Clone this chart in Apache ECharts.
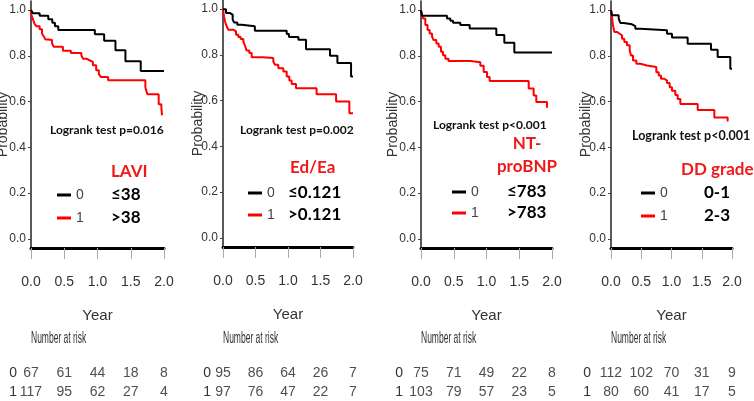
<!DOCTYPE html>
<html>
<head>
<meta charset="utf-8">
<script src="https://cdn.jsdelivr.net/npm/echarts@6/dist/echarts.min.js"></script>
<style>html,body{margin:0;padding:0;background:#fff}#c{width:754px;height:401px}</style>
</head>
<body>
<div id="c"></div>
<script>
// ---------- data ----------
const yearTicks = [0, 0.5, 1, 1.5, 2];
const probTicks = [0, 0.2, 0.4, 0.6, 0.8, 1.0];
const riskGroups = ['0', '1'];

// LAVI
const laviT0 = [0, 0.03, 0.13, 0.26, 0.32, 0.36, 0.41, 0.96, 1.10, 1.27, 1.42, 1.65, 2.0];
const laviS0 = [1.0, 0.986, 0.975, 0.96, 0.945, 0.93, 0.913, 0.895, 0.866, 0.825, 0.777, 0.734, 0.734];
const laviT1 = [0, 0.005, 0.03, 0.055, 0.08, 0.13, 0.165, 0.195, 0.215, 0.256, 0.316, 0.34, 0.48, 0.60, 0.757, 0.78, 0.83, 0.88, 0.93, 0.98, 1.02, 1.05, 1.16, 1.72, 1.75, 1.92, 1.96, 1.97];
const laviS1 = [1.0, 0.979, 0.96, 0.939, 0.93, 0.916, 0.898, 0.884, 0.872, 0.869, 0.857, 0.84, 0.822, 0.813, 0.803, 0.788, 0.781, 0.774, 0.759, 0.737, 0.72, 0.708, 0.693, 0.661, 0.632, 0.588, 0.576, 0.54];
const laviRisk0 = [67, 61, 44, 18, 8];
const laviRisk1 = [117, 95, 62, 27, 4];

// Ed/Ea
const edeaT0 = [0, 0.046, 0.108, 0.149, 0.169, 0.22, 0.287, 0.49, 0.98, 1.015, 1.16, 1.277, 1.646, 1.76, 1.97, 2.0];
const edeaS0 = [1.0, 0.983, 0.976, 0.954, 0.942, 0.932, 0.925, 0.906, 0.891, 0.878, 0.866, 0.825, 0.796, 0.764, 0.705, 0.705];
const edeaT1 = [0, 0.015, 0.03, 0.056, 0.082, 0.159, 0.2, 0.236, 0.272, 0.313, 0.338, 0.364, 0.405, 0.441, 0.61, 0.774, 0.8, 0.851, 0.928, 0.98, 1.02, 1.056, 1.123, 1.44, 1.74, 1.944, 2.0];
const edeaS1 = [1.0, 0.969, 0.947, 0.925, 0.91, 0.903, 0.888, 0.878, 0.869, 0.859, 0.84, 0.819, 0.808, 0.79, 0.786, 0.771, 0.757, 0.742, 0.727, 0.705, 0.688, 0.673, 0.654, 0.628, 0.596, 0.545, 0.545];
const edeaRisk0 = [95, 86, 64, 26, 7];
const edeaRisk1 = [97, 76, 47, 22, 7];

// NT-proBNP
const ntT0 = [0, 0.015, 0.397, 0.448, 0.489, 0.6, 0.743, 1.15, 1.272, 1.425, 2.0];
const ntS0 = [1.0, 0.976, 0.964, 0.954, 0.945, 0.935, 0.92, 0.891, 0.857, 0.815, 0.815];
const ntT1 = [0, 0.03, 0.066, 0.10, 0.132, 0.168, 0.193, 0.234, 0.27, 0.305, 0.336, 0.371, 0.42, 0.753, 0.906, 0.957, 1.008, 1.048, 1.644, 1.72, 1.76, 1.924, 1.93];
const ntS1 = [1.0, 0.964, 0.935, 0.913, 0.898, 0.884, 0.869, 0.854, 0.84, 0.818, 0.803, 0.788, 0.778, 0.772, 0.757, 0.73, 0.708, 0.69, 0.657, 0.627, 0.598, 0.573, 0.573];
const ntRisk0 = [75, 71, 49, 22, 8];
const ntRisk1 = [103, 79, 57, 23, 5];

// DD grade
const ddT0 = [0, 0.017, 0.127, 0.154, 0.209, 0.347, 0.402, 0.485, 0.926, 1.008, 1.267, 1.653, 1.763, 1.972, 2.0];
const ddS0 = [1.0, 0.978, 0.963, 0.944, 0.938, 0.93, 0.919, 0.912, 0.897, 0.88, 0.853, 0.827, 0.795, 0.744, 0.744];
const ddT1 = [0, 0.015, 0.033, 0.055, 0.1, 0.143, 0.182, 0.22, 0.264, 0.309, 0.33, 0.364, 0.419, 0.485, 0.595, 0.749, 0.788, 0.826, 0.882, 0.926, 0.97, 1.008, 1.063, 1.102, 1.146, 1.433, 1.708, 1.928, 1.94];
const ddS1 = [1.0, 0.971, 0.934, 0.905, 0.897, 0.89, 0.875, 0.861, 0.846, 0.824, 0.802, 0.78, 0.766, 0.758, 0.751, 0.729, 0.714, 0.7, 0.692, 0.681, 0.663, 0.648, 0.629, 0.612, 0.59, 0.563, 0.531, 0.516, 0.516];
const ddRisk0 = [112, 102, 70, 31, 9];
const ddRisk1 = [80, 60, 41, 17, 5];

// texts
const logrankTexts = ['Logrank test p=0.016', 'Logrank test p=0.002', 'Logrank test p<0.001', 'Logrank test p<0.001'];
const variableNames = ['LAVI', 'Ed/Ea', 'NT-\nproBNP', 'DD grade'];
const group0Labels = ['≤38', '≤0.121', '≤783', '0-1'];
const group1Labels = ['>38', '>0.121', '>783', '2-3'];

// ---------- layout / style ----------
const NARROW = '"Liberation Sans Narrow","Liberation Sans",Arial,sans-serif';
const BOLDF = 'Lato,"Open Sans","Liberation Sans",sans-serif';
const RED = '#ff0000';
const TXTRED = '#f01818';

const panels = [
  {T0: laviT0, S0: laviS0, T1: laviT1, S1: laviS1, R0: laviRisk0, R1: laviRisk1},
  {T0: edeaT0, S0: edeaS0, T1: edeaT1, S1: edeaS1, R0: edeaRisk0, R1: edeaRisk1},
  {T0: ntT0, S0: ntS0, T1: ntT1, S1: ntS1, R0: ntRisk0, R1: ntRisk1},
  {T0: ddT0, S0: ddS0, T1: ddT1, S1: ddS1, R0: ddRisk0, R1: ddRisk1}
];

const layout = [
  {left: 31, width: 133, top: 1, nameGap: 21, riskMargin: 14, lg: {x: 57, y0: 195, step: 23},
   lr: {x: 50, y: 130, fs: 12}, vn: {x: 111, y: 172, align: 'left'}, gl: {x: 111, y0: 195, y1: 218}},
  {left: 223, width: 130, top: 0, nameGap: 18, riskMargin: 12, lg: {x: 248, y0: 193, step: 22},
   lr: {x: 240, y: 130, fs: 12}, vn: {x: 290, y: 168, align: 'left'}, gl: {x: 288, y0: 193, y1: 215}},
  {left: 421, width: 131, top: 1, nameGap: 21, riskMargin: 18, lg: {x: 452, y0: 192, step: 21},
   lr: {x: 433, y: 125, fs: 12}, vn: {x: 527, y: 155, align: 'center'}, gl: {x: 507, y0: 192, y1: 213}},
  {left: 611, width: 121, top: 1, nameGap: 18, riskMargin: 20, lg: {x: 641, y0: 193, step: 23},
   lr: {x: 632, y: 136, fs: 12.5}, vn: {x: 681, y: 170, align: 'left'}, gl: {x: 704, y0: 193, y1: 216}}
];

const grid = [], xAxis = [], yAxis = [], series = [], legend = [], graphic = [];

panels.forEach((p, i) => {
  const L = layout[i];
  const gMain = grid.length;
  grid.push({left: L.left, width: L.width, top: L.top, height: 247, containLabel: false, outerBoundsMode: 'none'});
  xAxis.push({
    type: 'value', gridIndex: gMain, min: 0, max: 2, interval: 0.5,
    name: 'Year', nameLocation: 'middle', nameGap: 60, nameMoveOverlap: false,
    nameTextStyle: {fontFamily: NARROW, fontSize: 15, color: '#333'},
    axisLine: {onZero: false, lineStyle: {color: '#000', width: 3}},
    axisTick: {length: 11, lineStyle: {color: '#aaa', width: 1}},
    axisLabel: {margin: 27, fontFamily: NARROW, fontSize: 14, color: '#333', formatter: v => v.toFixed(1)},
    splitLine: {show: false}
  });
  yAxis.push({
    type: 'value', gridIndex: gMain, min: -0.04, max: 1.04,
    name: 'Probability', nameLocation: 'middle', nameRotate: 90, nameGap: L.nameGap, nameMoveOverlap: false,
    nameTextStyle: {fontFamily: '"Liberation Sans",sans-serif', fontSize: 14, color: '#333'},
    axisLine: {show: true, lineStyle: {color: '#222', width: 1.5}},
    axisTick: {show: true, length: 3, customValues: probTicks, lineStyle: {color: '#444'}},
    axisLabel: {customValues: probTicks, margin: 5, fontFamily: NARROW, fontSize: 12, color: '#333',
      formatter: v => Number(v).toFixed(1)},
    splitLine: {show: false}
  });
  const mk = (T, S) => T.map((t, k) => [t, S[k]]);
  series.push({type: 'line', name: '0', xAxisIndex: gMain, yAxisIndex: gMain, step: 'end', showSymbol: false,
    silent: true, data: mk(p.T0, p.S0), color: '#000', lineStyle: {color: '#000', width: 2}, itemStyle: {color: '#000'}, z: 3});
  series.push({type: 'line', name: '1', xAxisIndex: gMain, yAxisIndex: gMain, step: 'end', showSymbol: false,
    silent: true, data: mk(p.T1, p.S1), color: RED, lineStyle: {color: RED, width: 2}, itemStyle: {color: RED}, z: 2});

  // risk table
  const gRisk = grid.length;
  grid.push({left: L.left, width: L.width, top: 364, height: 38, outerBoundsMode: 'none'});
  xAxis.push({type: 'value', gridIndex: gRisk, min: 0, max: 2, show: false});
  yAxis.push({type: 'category', gridIndex: gRisk, data: riskGroups, inverse: true,
    axisLine: {show: false}, axisTick: {show: false}, splitLine: {show: false},
    axisLabel: {interval: 0, margin: L.riskMargin, fontFamily: NARROW, fontSize: 14, color: '#333'}});
  [p.R0, p.R1].forEach((R, g) => {
    series.push({type: 'scatter', xAxisIndex: gRisk, yAxisIndex: gRisk, symbolSize: 2, silent: true,
      itemStyle: {color: 'rgba(255,255,255,0)'},
      label: {show: true, position: 'inside', fontFamily: NARROW, fontSize: 14, color: '#222', formatter: q => String(q.value[2])},
      labelLayout: {hideOverlap: false},
      data: yearTicks.map((x, k) => [x, g, R[k]])});
  });

  legend.push({
    data: ['0', '1'], orient: 'vertical', left: L.lg.x, top: L.lg.y0 - 8, selectedMode: false,
    icon: 'rect', itemWidth: 14, itemHeight: 3, itemGap: L.lg.step - 16, padding: 0, itemTextGap: 4,
    textStyle: {fontFamily: NARROW, fontSize: 14, color: '#444', lineHeight: 16}
  });

  graphic.push({type: 'text', x: L.lr.x, y: L.lr.y, style: {text: logrankTexts[i], fontFamily: BOLDF, fontWeight: 'bold',
    fontSize: L.lr.fs, fill: '#111', verticalAlign: 'middle', align: 'left'}});
  graphic.push({type: 'text', x: L.vn.x, y: L.vn.y, style: {text: variableNames[i], fontFamily: BOLDF, fontWeight: 'bold',
    fontSize: 17, lineHeight: 23, fill: TXTRED, verticalAlign: 'middle', align: L.vn.align}});
  graphic.push({type: 'text', x: L.gl.x, y: L.gl.y0, style: {text: group0Labels[i], fontFamily: BOLDF, fontWeight: 'bold',
    fontSize: 17, fill: '#000', verticalAlign: 'middle', align: 'left'}});
  graphic.push({type: 'text', x: L.gl.x, y: L.gl.y1, style: {text: group1Labels[i], fontFamily: BOLDF, fontWeight: 'bold',
    fontSize: 17, fill: '#000', verticalAlign: 'middle', align: 'left'}});
  graphic.push({type: 'text', x: L.left, y: 338, scaleX: 0.5, style: {text: 'Number at risk', fontFamily: NARROW,
    fontSize: 17, fill: '#333', verticalAlign: 'middle', align: 'left'}});
});

const chart = echarts.init(document.getElementById('c'), null, {renderer: 'canvas'});
chart.setOption({animation: false, backgroundColor: '#fff', grid, xAxis, yAxis, series, legend, graphic});
</script>
</body>
</html>
